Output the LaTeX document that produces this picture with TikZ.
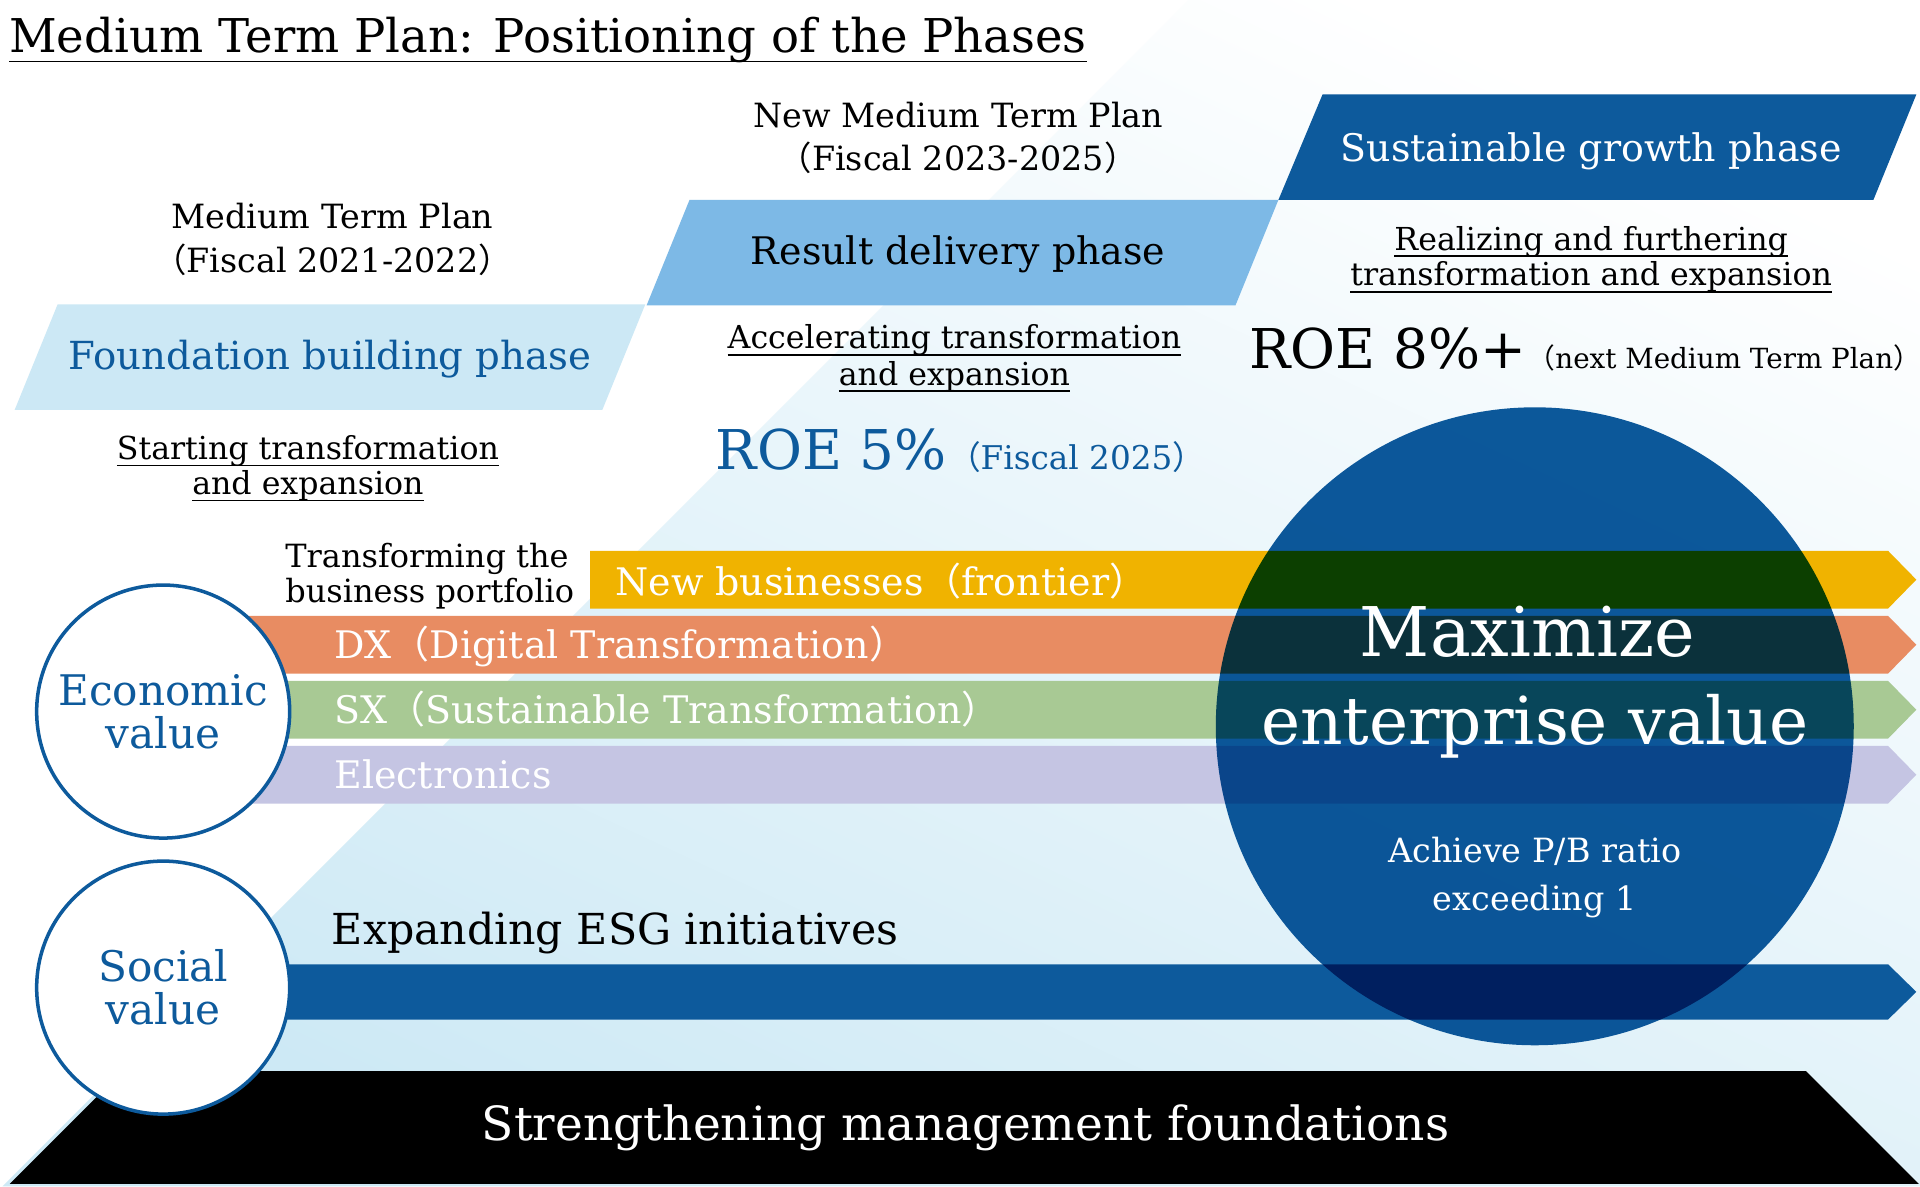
\documentclass[tikz,border=0pt]{standalone}
\usepackage{fontspec}
\setmainfont{DejaVu Serif}
\newfontfamily\cjkparen{Noto Sans CJK JP}[RawFeature=+halt]
\newfontfamily\cjkwide{Noto Sans CJK JP}
\definecolor{mtpblue}{RGB}{13,90,156}
\definecolor{mtpsky}{RGB}{125,185,230}
\definecolor{mtppale}{RGB}{204,232,245}
\definecolor{mtpbg}{RGB}{205,233,245}
\definecolor{mtpyellow}{RGB}{240,179,0}
\definecolor{mtporange}{RGB}{232,140,98}
\definecolor{mtpgreen}{RGB}{168,201,148}
\definecolor{mtplilac}{RGB}{197,197,227}
% full-width parentheses: spaced opening, tight opening at a line start, closing
\newcommand\fwl{{\cjkwide （}}
\newcommand\hwl{{\cjkparen （}}
\newcommand\fwr{{\cjkparen ）}}
\newcommand\undl[2][-1.9pt]{\setbox0\hbox{#2}\rlap{\rule[#1]{\wd0}{0.45pt}}\box0}
\tikzset{
  headline/.style={font=\fontsize{13.25}{16}\selectfont},
  plantext/.style={font=\fontsize{9.5}{11}\selectfont},
  phasetext/.style={font=\fontsize{10.8}{13}\selectfont},
  goaltext/.style={font=\fontsize{9}{11}\selectfont},
  roetext/.style={font=\fontsize{15.6}{19}\selectfont},
  barlabel/.style={font=\fontsize{10.8}{13}\selectfont, text=white, anchor=base west},
  valuecircle/.style={circle, draw=mtpblue, line width=1pt, fill=white, minimum size=2.53cm,
    text=mtpblue, align=center, font=\fontsize{12}{12.3}\selectfont},
}
\begin{document}
\begin{tikzpicture}[x=0.012268cm, y=-0.012268cm, inner sep=0pt]
\useasboundingbox (0,0) rectangle (1565,967);
% Background
\fill[white] (0,0) rectangle (1565,967);
\shade[top color=white, bottom color=mtpbg, shading angle=-25]
  (969,0) -- (1565,0) -- (1565,967) -- (2,967) -- cycle;
% Title
\node[headline, anchor=base west] (headline) at (7,43) {\undl[-2.7pt]{Medium Term Plan: Positioning of the Phases}};
% Plan periods
\node[plantext, anchor=base] (newplan) at (781,104) {New Medium Term Plan};
\node[plantext, anchor=base] (newfiscal) at (781,139) {\hwl Fiscal 2023-2025\fwr};
\node[plantext, anchor=base] (oldplan) at (271,186.6) {Medium Term Plan};
\node[plantext, anchor=base] (oldfiscal) at (271,222) {\hwl Fiscal 2021-2022\fwr};
% Phase bands
\fill[mtppale] (12,334) -- (47,248) -- (526,248) -- (491,334) -- cycle;
\fill[mtpsky] (527,249) -- (562,163) -- (1042,163) -- (1007,249) -- cycle;
\fill[mtpblue] (1042,163) -- (1078,77) -- (1562,77) -- (1527,163) -- cycle;
\node[phasetext, text=mtpblue, anchor=base, font=\fontsize{11}{13}\selectfont] (foundation) at (269,301) {Foundation building phase};
\node[phasetext, anchor=base] (delivery) at (781,216) {Result delivery phase};
\node[phasetext, text=white, anchor=base] (growth) at (1297,131.8) {Sustainable growth phase};
% Aims of each phase
\node[goaltext, anchor=base] (start1) at (251,374.5) {\undl{Starting transformation}};
\node[goaltext, anchor=base] (start2) at (251,403) {\undl{and expansion}};
\node[goaltext, anchor=base] (accel1) at (778,284.4) {\undl{Accelerating transformation}};
\node[goaltext, anchor=base] (accel2) at (778,314) {\undl{and expansion}};
\node[goaltext, anchor=base] (real1) at (1297,204) {\undl{Realizing and furthering}};
\node[goaltext, anchor=base] (real2) at (1297,233) {\undl{transformation and expansion}};
% ROE targets
\node[roetext, text=mtpblue, anchor=base west] (roefive) at (583,383) {ROE 5\%};
\node[text=mtpblue, anchor=base west, font=\fontsize{9.3}{11}\selectfont] (roefivenote) at (roefive.base east) {\fwl Fiscal 2025\fwr};
\node[roetext, anchor=base west] (roeeight) at (1018,300) {ROE 8\%+};
\node[anchor=base west, font=\fontsize{7.9}{10}\selectfont] (roeeightnote) at (roeeight.base east) {\fwl next Medium Term Plan\fwr};
% Business portfolio bars
\node[anchor=base west, font=\fontsize{9.1}{11}\selectfont] (portfolio1) at (232,462.7) {Transforming the};
\node[anchor=base west, font=\fontsize{9.1}{11}\selectfont] (portfolio2) at (232,491.4) {business portfolio};
\fill[mtpyellow] (481,449) -- (1539,449) -- (1562,472.5) -- (1539,496) -- (481,496) -- cycle;
\fill[mtporange] (133,502) -- (1539,502) -- (1562,525.5) -- (1539,549) -- (133,549) -- cycle;
\fill[mtpgreen] (133,555) -- (1539,555) -- (1562,578.5) -- (1539,602) -- (133,602) -- cycle;
\fill[mtplilac] (133,608) -- (1539,608) -- (1562,631.5) -- (1539,655) -- (133,655) -- cycle;
% ESG bar
\fill[mtpblue] (133,786) -- (1539,786) -- (1562,808.5) -- (1539,831) -- (133,831) -- cycle;
% Management foundations
\fill[black] (8,965) -- (100,873) -- (1472,873) -- (1564,965) -- cycle;
% Enterprise value circle
\begin{scope}[blend mode=multiply]
\fill[mtpblue] (1251,592) circle[radius=260];
\end{scope}
\node[barlabel] (newbiz) at (501,485.5) {New businesses\fwl frontier\fwr};
\node[barlabel] (dx) at (272,536.4) {DX\fwl Digital Transformation\fwr};
\node[barlabel] (sx) at (272,590) {SX\fwl Sustainable Transformation\fwr};
\node[barlabel] (elec) at (272,642.7) {Electronics};
\node[anchor=base west, font=\fontsize{12.15}{14}\selectfont] (esg) at (270,770) {Expanding ESG initiatives};
\node[text=white, anchor=base, font=\fontsize{13.4}{16}\selectfont] (foundations) at (787,930) {Strengthening management foundations};
\node[text=white, anchor=base, font=\fontsize{19.5}{22}\selectfont] (maximize) at (1245,535.3) {Maximize};
\node[text=white, anchor=base, font=\fontsize{18.8}{22}\selectfont] (enterprise) at (1251,606.6) {enterprise value};
\node[text=white, anchor=base, font=\fontsize{9.5}{11}\selectfont] (pbr1) at (1251,702.7) {Achieve P/B ratio};
\node[text=white, anchor=base, font=\fontsize{9.5}{11}\selectfont] (pbr2) at (1251,742.3) {exceeding 1};
% Value circles
\node[valuecircle] (economic) at (133,580) {Economic\\value};
\node[valuecircle] (social) at (133,805) {Social\\value};
\end{tikzpicture}
\end{document}
